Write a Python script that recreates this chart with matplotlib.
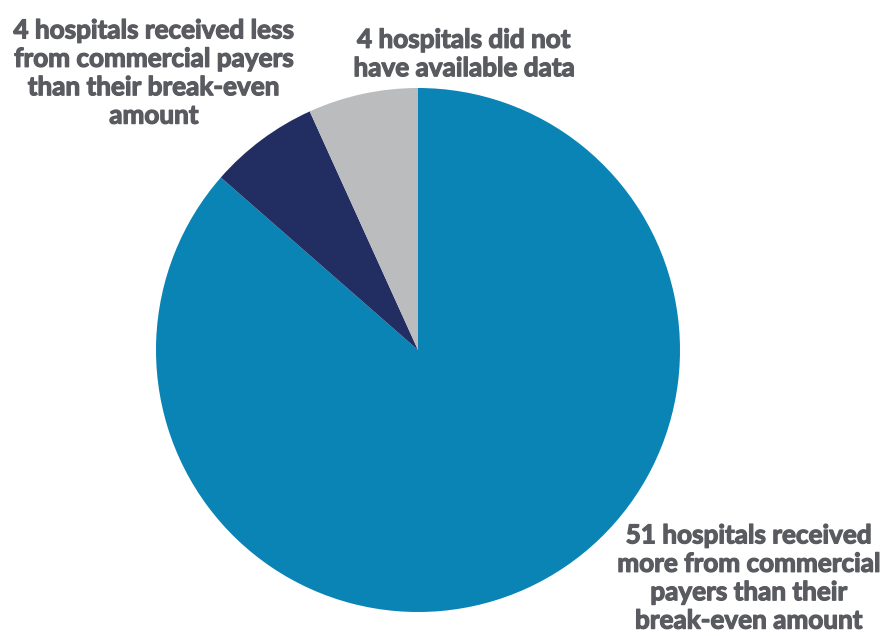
import matplotlib.pyplot as plt
import matplotlib.patheffects as pe

counts = [51, 4, 4]
groups = ["received more from commercial\npayers than their\nbreak-even amount",
          "received less\nfrom commercial payers\nthan their break-even\namount",
          "did not\nhave available data"]
colors = ["#0A83B5", "#222D62", "#BBBCBE"]

# label centres in figure pixels (from top-left)
label_pos = [(749, 578), (154, 73), (464, 54)]

W, H = 884, 636
fig = plt.figure(figsize=(W / 100, H / 100), dpi=100)
ax = fig.add_axes([156 / W, (H - 612) / H, 524 / W, 524 / H])
ax.pie(counts, colors=colors, startangle=90, counterclock=False,
       radius=1, wedgeprops=dict(linewidth=0))
ax.set_xlim(-1, 1)
ax.set_ylim(-1, 1)
ax.set_aspect("equal")
ax.axis("off")

txt_color = "#595B60"
for n, g, (px, py) in zip(counts, groups, label_pos):
    if n == 51:
        txt = f"{n} hospitals received\n" + g.replace("received ", "", 1)
    else:
        txt = f"{n} hospitals {g}"
    fig.text(px / W, 1 - py / H, txt, ha="center", va="center",
             fontsize=18.8, fontweight="bold", family="Lato",
             color=txt_color, linespacing=1.22,
             path_effects=[pe.withStroke(linewidth=0.9, foreground=txt_color)])

fig.savefig("out.png", dpi=100, facecolor="white")
